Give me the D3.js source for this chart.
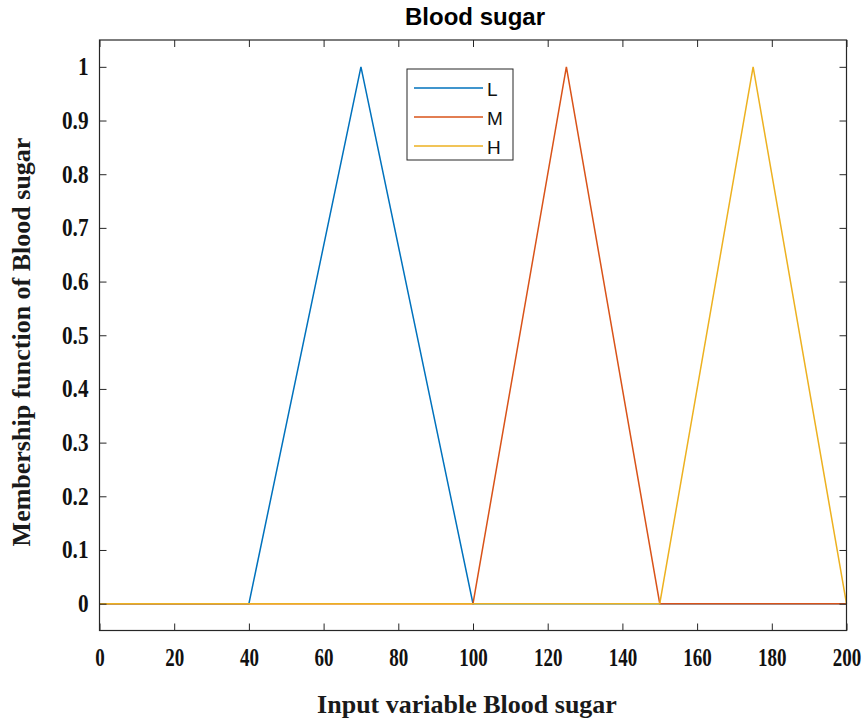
<!DOCTYPE html>
<html>
<head>
<meta charset="utf-8">
<script src="https://cdnjs.cloudflare.com/ajax/libs/d3/7.8.5/d3.min.js"></script>
<style>
  body { margin: 0; background: #fff; }
  svg { display: block; }
</style>
</head>
<body>
<svg id="chart"></svg>
<script>
const seriesNames = ["L", "M", "H"];
const seriesColors = ["#0072BD", "#D95319", "#EDB120"];
// breakpoints of each triangular membership function
const xL = [0, 40, 70, 100, 200];
const yL = [0, 0, 1, 0, 0];
const xM = [0, 100, 125, 150, 200];
const yM = [0, 0, 1, 0, 0];
const xH = [0, 150, 175, 200];
const yH = [0, 0, 1, 0];
const xTicks = [0, 20, 40, 60, 80, 100, 120, 140, 160, 180, 200];
const yTicks = [0, 0.1, 0.2, 0.3, 0.4, 0.5, 0.6, 0.7, 0.8, 0.9, 1];

const W = 866, H = 724;
const margin = { top: 40, right: 19.5, bottom: 93.5, left: 99.5 };
const width = W - margin.left - margin.right;
const height = H - margin.top - margin.bottom;

const svg = d3.select("#chart").attr("width", W).attr("height", H);
const g = svg.append("g").attr("transform", `translate(${margin.left},${margin.top})`);

const x = d3.scaleLinear().domain([0, 200]).range([0, width]);
const y = d3.scaleLinear().domain([-0.05, 1.05]).range([height, 0]);

const series = [
  { name: seriesNames[0], color: seriesColors[0], pts: xL.map((v, i) => [v, yL[i]]) },
  { name: seriesNames[1], color: seriesColors[1], pts: xM.map((v, i) => [v, yM[i]]) },
  { name: seriesNames[2], color: seriesColors[2], pts: xH.map((v, i) => [v, yH[i]]) }
];

const line = d3.line().x(d => x(d[0])).y(d => y(d[1]));

g.selectAll(".mf")
    .data(series)
  .enter().append("path")
    .attr("class", "mf")
    .attr("d", d => line(d.pts))
    .attr("fill", "none")
    .attr("stroke", d => d.color)
    .attr("stroke-width", 1.5);

const tickFont = "'Liberation Serif', 'Times New Roman', serif";

function squeeze(sel, k) {
  sel.each(function() {
    const w = this.getComputedTextLength();
    d3.select(this).attr("textLength", w * k).attr("lengthAdjust", "spacingAndGlyphs");
  });
}

function styleAxis(a) {
  a.select(".domain").remove();
  a.selectAll(".tick line").attr("stroke", "#262626");
}

const xAxis = g.append("g")
    .attr("transform", `translate(0,${height})`)
    .call(d3.axisBottom(x).tickValues(xTicks).tickSize(-7).tickPadding(18).tickFormat(d3.format("d")));
styleAxis(xAxis);
xAxis.selectAll("text")
    .attr("font-family", tickFont).attr("font-weight", "bold")
    .attr("font-size", 25).attr("fill", "#111")
    .call(squeeze, 0.76);

const yAxis = g.append("g")
    .call(d3.axisLeft(y).tickValues(yTicks).tickSize(-7).tickPadding(11).tickFormat(d => d === 0 || d === 1 ? d3.format("d")(d) : d3.format(".1f")(d)));
styleAxis(yAxis);
yAxis.selectAll("text")
    .attr("font-family", tickFont).attr("font-weight", "bold")
    .attr("font-size", 25).attr("fill", "#111")
    .call(squeeze, 0.85);

// mirrored ticks on top and right
const topAxis = g.append("g").call(d3.axisTop(x).tickValues(xTicks).tickSize(-7).tickFormat(""));
styleAxis(topAxis);
const rightAxis = g.append("g").attr("transform", `translate(${width},0)`)
    .call(d3.axisRight(y).tickValues(yTicks).tickSize(-7).tickFormat(""));
styleAxis(rightAxis);

g.append("rect")
    .attr("width", width).attr("height", height)
    .attr("fill", "none").attr("stroke", "#262626").attr("stroke-width", 1.2);

// title
svg.append("text")
    .attr("x", 475).attr("y", 25)
    .attr("text-anchor", "middle")
    .attr("font-family", "'Liberation Sans', Arial, sans-serif")
    .attr("font-weight", "bold").attr("font-size", 24)
    .attr("fill", "#000")
    .text("Blood sugar");

svg.append("text")
    .attr("x", 467).attr("y", 713)
    .attr("text-anchor", "middle")
    .attr("font-family", tickFont)
    .attr("font-weight", "bold").attr("font-size", 26)
    .attr("fill", "#1a1a1a")
    .text("Input variable Blood sugar");

svg.append("text")
    .attr("transform", `translate(30,342) rotate(-90)`)
    .attr("text-anchor", "middle")
    .attr("font-family", tickFont)
    .attr("font-weight", "bold").attr("font-size", 26)
    .attr("fill", "#1a1a1a")
    .text("Membership function of Blood sugar");

// legend
const lg = svg.append("g").attr("transform", "translate(407,69)");
lg.append("rect")
    .attr("width", 106).attr("height", 91)
    .attr("fill", "#fff").attr("stroke", "#262626").attr("stroke-width", 1);
const items = lg.selectAll(".item")
    .data(series)
  .enter().append("g")
    .attr("transform", (d, i) => `translate(0,${19 + i * 29})`);
items.append("line")
    .attr("x1", 7).attr("x2", 76)
    .attr("stroke", d => d.color).attr("stroke-width", 1.5);
items.append("text")
    .attr("x", 80).attr("y", 8)
    .attr("font-family", "'Liberation Sans', Arial, sans-serif")
    .attr("font-size", 19).attr("fill", "#111")
    .text(d => d.name);
</script>
</body>
</html>
